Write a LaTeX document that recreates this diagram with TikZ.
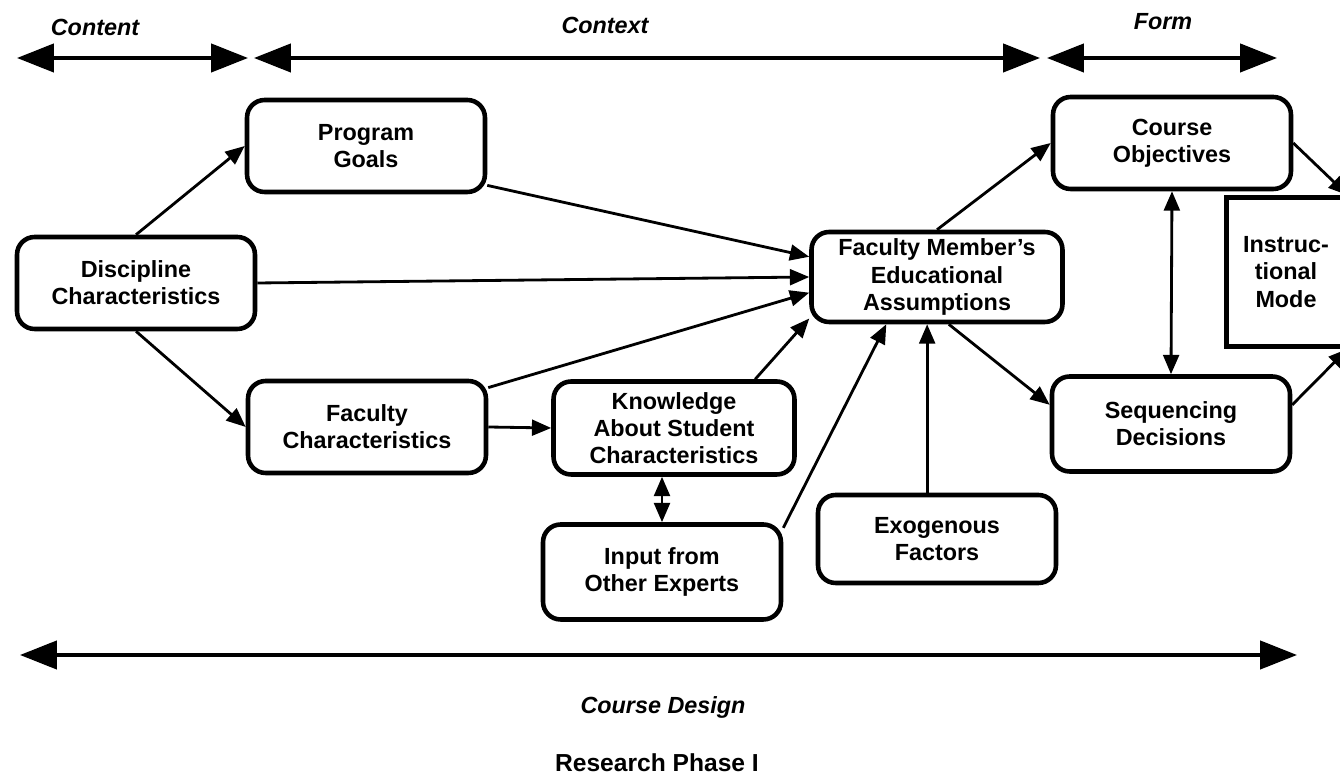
\documentclass[tikz,border=0pt]{standalone}
\usepackage{fontspec}
\setmainfont{Liberation Sans}
\usetikzlibrary{arrows.meta}

\begin{document}
\begin{tikzpicture}[x=0.02cm,y=-0.02cm,
    every node/.style={font=\fontsize{13.3}{15.5}\selectfont\bfseries},
    box/.style={draw,line width=2.6pt,rounded corners=10pt,align=center,inner sep=0pt,
        minimum width=4.76cm,minimum height=1.84cm},
    conn/.style={line width=1.6pt,-{Triangle[length=11pt,width=9pt]}},
    twoway/.style={line width=1.6pt,{Triangle[length=11pt,width=9pt]}-{Triangle[length=11pt,width=9pt]}},
    span/.style={line width=2.2pt,{Triangle[length=21pt,width=16pt]}-{Triangle[length=21pt,width=16pt]}},
    lbl/.style={font=\fontsize{13.3}{15.5}\selectfont\bfseries\itshape}]
        \useasboundingbox (0,0) rectangle (1340,776);
        \clip (0,0) rectangle (1340,776); % page edge cuts the mode box
        % top scale
        \coordinate (contentL) at (17,58); \coordinate (contentR) at (248,58);
        \coordinate (contextL) at (254,58); \coordinate (contextR) at (1040,58);
        \coordinate (formL) at (1047,58); \coordinate (formR) at (1277,58);
        \draw[span] (contentL) -- (contentR);
        \draw[span] (contextL) -- (contextR);
        \draw[span] (formL) -- (formR);
        \node[lbl] (content) at (95,27) {Content};
        \node[lbl] (context) at (605,25) {Context};
        \node[lbl] (form) at (1163,22) {Form};
        % boxes
        \node[box] (disc) at (136,283) {Discipline\\Characteristics};
        \node[box] (prog) at (366,146) {Program\\Goals};
        \node[box] (fac) at (367,427) {Faculty\\Characteristics};
        \node[box,minimum width=4.82cm,minimum height=1.86cm] (know) at (674,428)
        {Knowledge\\About Student\\Characteristics};
        \node[box,minimum height=1.9cm] (input) at (662,572) {Input from\\Other Experts};
        \node[box,minimum height=1.76cm] (exo) at (937,539) {Exogenous\\Factors};
        \node[box,minimum width=5.02cm,minimum height=1.8cm] (fma) at (937,277)
        {Faculty Member's\\Educational\\Assumptions};
        \node[box] (cobj) at (1172,143) {Course\\Objectives};
        \node[box,minimum height=1.9cm] (seq) at (1171,424) {Sequencing\\Decisions};
        \node[box,sharp corners,minimum width=2.38cm,minimum height=2.98cm] (imode) at (1286,272)
        {Instruc-\\tional\\Mode};
        % connectors
        \draw[conn] (disc.north) -- (prog.west);
        \draw[conn] (disc.south) -- (fac.west);
        \draw[conn] (disc.east) -- (fma.west);
        \draw[conn] (prog.-18) -- (fma.171);
        \draw[conn] (fac.18) -- (fma.187);
        \draw[conn] (fac.east) -- (know.west);
        \draw[conn] (know.31) -- (fma.198);
        \draw[twoway] (input.north) -- (input.north |- know.south);
        \draw[conn] (input.20) -- (fma.223);
        \draw[conn] (exo.102) -- (exo.102 |- fma.south);
        \draw[conn] (fma.north) -- (cobj.west);
        \draw[conn] (fma.-76) -- (seq.171);
        \draw[twoway] (cobj.south) -- (seq.north);
        \draw[conn] (cobj.east) -- (imode.north east);
        \draw[conn] (seq.9) -- (imode.south east);
        % bottom scale
        \coordinate (designL) at (20,655); \coordinate (designR) at (1297,655);
        \draw[span] (designL) -- (designR);
        \node[lbl] (design) at (663,707) {Course Design};
        \node[font=\fontsize{14}{16}\selectfont\bfseries] (phase) at (657,763) {Research Phase I};
    \end{tikzpicture}
\end{document}
